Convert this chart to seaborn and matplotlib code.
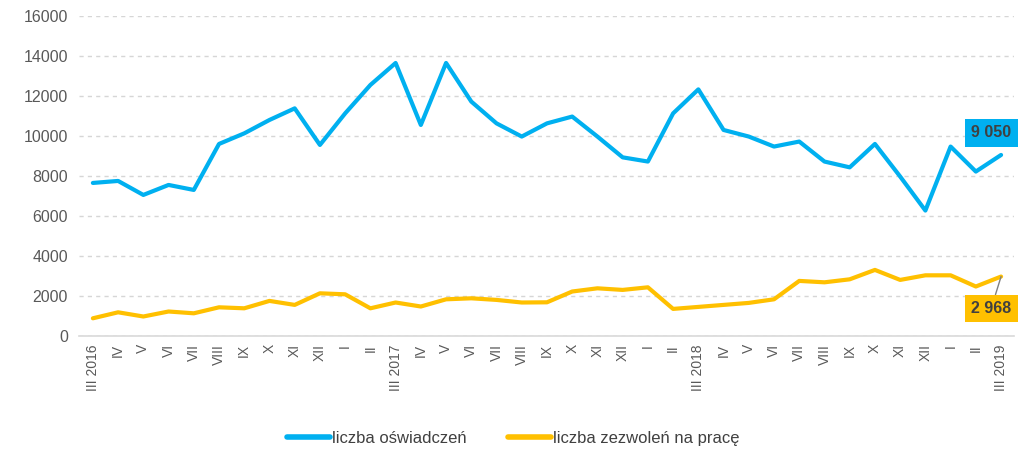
import pandas as pd
import matplotlib
matplotlib.use("Agg")
import matplotlib.pyplot as plt
import seaborn as sns

# monthly data, III 2016 - III 2019
months = ["III 2016", "IV", "V", "VI", "VII", "VIII", "IX", "X", "XI", "XII", "I", "II",
          "III 2017", "IV", "V", "VI", "VII", "VIII", "IX", "X", "XI", "XII", "I", "II",
          "III 2018", "IV", "V", "VI", "VII", "VIII", "IX", "X", "XI", "XII", "I", "II",
          "III 2019"]
oswiadczenia = [7650, 7750, 7050, 7550, 7300, 9600, 10130, 10800, 11380, 9550, 11130, 12550,
                13650, 10550, 13650, 11720, 10630, 9970, 10630, 10970, 9970, 8930, 8720, 11130,
                12330, 10300, 9970, 9470, 9720, 8720, 8430, 9600, 7970, 6270, 9470, 8220,
                9050]
zezwolenia = [880, 1180, 970, 1220, 1130, 1430, 1380, 1750, 1550, 2130, 2080, 1380,
              1670, 1470, 1830, 1880, 1800, 1670, 1680, 2220, 2380, 2300, 2430, 1350,
              1450, 1550, 1650, 1830, 2750, 2680, 2830, 3300, 2800, 3030, 3030, 2470,
              2968]
series_names = ["liczba oświadczeń", "liczba zezwoleń na pracę"]
colors = ["#00B0F0", "#FFC000"]

df = pd.DataFrame({
    "idx": list(range(len(months))) * 2,
    "value": oswiadczenia + zezwolenia,
    "series": [series_names[0]] * len(months) + [series_names[1]] * len(months),
})

sns.set_style("white")
plt.rcParams["font.family"] = ["Liberation Sans", "DejaVu Sans"]

fig = plt.figure(figsize=(10.26, 4.57), dpi=100)
ax = fig.add_axes([0.077, 0.265, 0.911, 0.70])

sns.lineplot(data=df, x="idx", y="value", hue="series", palette=colors,
             linewidth=3, ax=ax, legend=False, zorder=3)

ax.set_xlim(-0.55, 36.5)
ax.set_ylim(0, 16000)
ax.set_yticks(range(0, 16001, 2000))
ax.set_xticks(range(len(months)))
ax.set_xticklabels(months, rotation=90, fontsize=10, color="#595959")
ax.tick_params(axis="y", labelsize=11.5, labelcolor="#595959", length=0, pad=8)
ax.tick_params(axis="x", length=0, pad=6)
ax.set_xlabel("")
ax.set_ylabel("")

ax.grid(axis="y", color="#D6D6D6", linestyle=(0, (3, 3)), linewidth=1)
for s in ["top", "right", "left"]:
    ax.spines[s].set_visible(False)
ax.spines["bottom"].set_color("#D9D9D9")
ax.spines["bottom"].set_linewidth(1.2)

# end-point labels
last = len(months) - 1
ax.annotate(f"{oswiadczenia[-1]:,}".replace(",", " "), xy=(last, oswiadczenia[-1]),
            xytext=(-30, 22), textcoords="offset pixels", ha="left", va="center",
            fontsize=11.5, fontweight="bold", color="#404040", annotation_clip=False,
            bbox=dict(boxstyle="square,pad=0.4", fc=colors[0], ec="none"))
ax.annotate(f"{zezwolenia[-1]:,}".replace(",", " "), xy=(last, zezwolenia[-1]),
            xytext=(-30, -32), textcoords="offset pixels", ha="left", va="center",
            fontsize=11.5, fontweight="bold", color="#404040", annotation_clip=False,
            bbox=dict(boxstyle="square,pad=0.4", fc=colors[1], ec="none"),
            arrowprops=dict(arrowstyle="-", color="#808080", lw=1, shrinkA=0, shrinkB=0))

handles = [plt.Line2D([], [], color=c, lw=4) for c in colors]
fig.legend(handles, series_names, loc="center", bbox_to_anchor=(0.5, 0.04), ncol=2,
           frameon=False, fontsize=12, handlelength=2.6, handletextpad=0.1,
           columnspacing=2.5, labelcolor="#404040")

fig.savefig("out.png", dpi=100)
